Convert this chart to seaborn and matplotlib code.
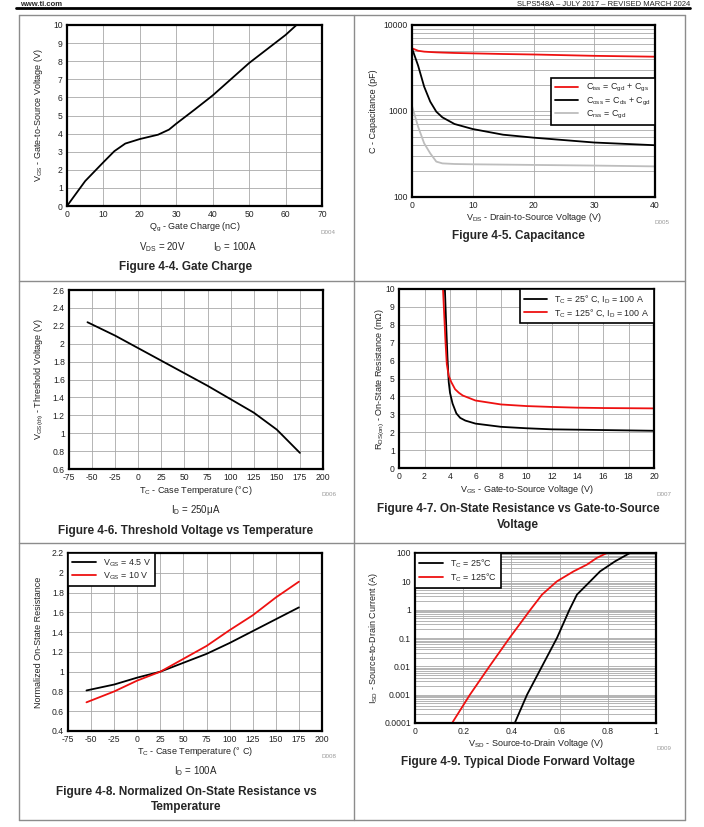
import numpy as np
import pandas as pd
import matplotlib
matplotlib.use("Agg")
import matplotlib.pyplot as plt
from matplotlib.lines import Line2D
from matplotlib.ticker import LogLocator, NullFormatter
import seaborn as sns

# ---------------- data ----------------
# Figure 4-4 gate charge
qg_nc = [0, 5, 10, 13, 16, 20, 25, 28, 30, 35, 40, 50, 60, 63]
vgs_gate = [0, 1.38, 2.42, 3.03, 3.45, 3.7, 3.94, 4.22, 4.55, 5.32, 6.11, 7.9, 9.45, 10]

# Figure 4-5 capacitance (pF)
vds_cap = [0, 1, 2, 3, 4, 5, 7, 10, 15, 20, 30, 40]
c_iss = [5360, 5020, 4900, 4850, 4810, 4780, 4730, 4680, 4600, 4540, 4380, 4280]
c_oss = [5360, 3380, 1920, 1285, 982, 844, 706, 617, 530, 490, 430, 400]
c_rss = [1142, 658, 421, 322, 258, 246, 242, 240, 238, 236, 232, 227]

# Figure 4-6 threshold voltage
tc_vth = [-55, -25, 0, 25, 50, 75, 100, 125, 150, 175]
vth = [2.24, 2.09, 1.95, 1.81, 1.67, 1.53, 1.38, 1.23, 1.04, 0.78]

# Figure 4-7 on-state resistance vs VGS (mOhm)
vgs_25c = [3.6, 3.7, 3.8, 3.9, 4.0, 4.2, 4.5, 4.8, 5.2, 6, 8, 10, 12, 16, 20]
rds_25c = [10, 8, 6.2, 4.8, 4.2, 3.6, 3.05, 2.8, 2.65, 2.48, 2.3, 2.22, 2.16, 2.12, 2.08]
vgs_125c = [3.45, 3.55, 3.65, 3.75, 3.9, 4.1, 4.4, 4.7, 5, 6, 8, 10, 12, 14, 16, 20]
rds_125c = [10, 8.5, 7, 5.8, 5.15, 4.8, 4.4, 4.2, 4.05, 3.77, 3.55, 3.46, 3.41, 3.37, 3.35, 3.33]

# Figure 4-8 normalized on-state resistance
tc_rn = [-55, -25, 0, 25, 50, 75, 100, 125, 150, 175]
rn_4v5 = [0.81, 0.87, 0.94, 1.0, 1.09, 1.18, 1.29, 1.41, 1.53, 1.65]
rn_10v = [0.69, 0.80, 0.91, 1.0, 1.13, 1.26, 1.42, 1.57, 1.75, 1.91]

# Figure 4-9 diode forward voltage
vsd_25c = [0.414, 0.465, 0.527, 0.589, 0.641, 0.672, 0.727, 0.768, 0.799, 0.83, 0.892]
isd_25c = [1e-4, 1e-3, 1e-2, 0.1, 1, 3.4, 10, 22.5, 33.8, 50.8, 100]
vsd_125c = [0.154, 0.228, 0.309, 0.392, 0.479, 0.527, 0.589, 0.658, 0.713, 0.754, 0.796]
isd_125c = [1e-4, 1e-3, 1e-2, 0.1, 1, 3.4, 10, 22.5, 38.7, 66.7, 100]

# ---------------- style ----------------
sns.set_theme(style="white")
plt.rcParams["font.family"] = ["Liberation Sans", "DejaVu Sans"]
plt.rcParams["mathtext.fontset"] = "custom"
plt.rcParams["mathtext.rm"] = "Liberation Sans"
plt.rcParams["mathtext.default"] = "regular"
plt.rcParams["axes.unicode_minus"] = False

W, H = 704, 827
fig = plt.figure(figsize=(W / 100, H / 100), dpi=100)
fig.patch.set_facecolor("white")

GRID = "#a8a8a8"
BORDER = "#8c8c8c"


def add_ax(x0, y0, x1, y1):
    return fig.add_axes([x0 / W, 1 - y1 / H, (x1 - x0) / W, (y1 - y0) / H])


def ftext(x, y, s, **kw):
    fig.text(x / W, 1 - y / H, s, **kw)


def hline(x0, x1, y, **kw):
    fig.add_artist(Line2D([x0 / W, x1 / W], [1 - y / H, 1 - y / H], **kw))


def vline(x, y0, y1, **kw):
    fig.add_artist(Line2D([x / W, x / W], [1 - y0 / H, 1 - y1 / H], **kw))


def style_ax(ax, box, xlabel, ylabel, ylab_x, xlab_y):
    x0, y0, x1, y1 = box
    for sp in ax.spines.values():
        sp.set_visible(True)
        sp.set_color("black")
        sp.set_linewidth(1.6)
    ax.tick_params(which="both", length=0, labelsize=6.2, pad=3, colors="#222222")
    ax.set_xlabel(xlabel, fontsize=6.5, va="center", color="#222222")
    ax.set_ylabel(ylabel, fontsize=6.5, va="center", color="#222222")
    ax.xaxis.set_label_coords(0.5, -(xlab_y - y1) / (y1 - y0))
    ax.yaxis.set_label_coords((ylab_x - x0) / (x1 - x0), 0.5)
    ax.set_axisbelow(True)


def legend(ax, **kw):
    leg = ax.legend(fontsize=6.4, frameon=True, fancybox=False, framealpha=1,
                    borderaxespad=0, handlelength=2.6, labelspacing=0.15,
                    borderpad=0.5, **kw)
    leg.get_frame().set_edgecolor("black")
    leg.get_frame().set_linewidth(1.2)
    return leg


# ---------------- page frame ----------------
ftext(20, 5.5, "www.ti.com", fontsize=5.5, fontweight="bold", va="baseline")
ftext(690, 5.5, "SLPS548A \u2013 JULY 2017 \u2013 REVISED MARCH 2024", fontsize=5.5,
      ha="right", va="baseline")
hline(16, 690, 7.5, color="black", lw=2)
for yy in (15, 281, 543, 820):
    hline(19, 685, yy, color=BORDER, lw=1)
for xx in (19, 354, 685):
    vline(xx, 15, 820, color=BORDER, lw=1)

# ---------------- Figure 4-4 ----------------
box = (67, 25, 322, 206)
ax = add_ax(*box)
sns.lineplot(x=qg_nc, y=vgs_gate, ax=ax, color="black", lw=1.3)
ax.set_xlim(0, 70)
ax.set_ylim(0, 10)
ax.set_xticks(range(0, 71, 10))
ax.set_yticks(range(0, 11))
ax.grid(True, color=GRID, lw=0.6)
style_ax(ax, box, "Q$_g$ - Gate Charge (nC)", "V$_{GS}$ - Gate-to-Source Voltage (V)", 39, 227)
ftext(328, 233, "D004", fontsize=4.5, color="#999999", ha="center", va="center")
ftext(162, 247, "V$_{DS}$ = 20V", fontsize=7, ha="center", va="center")
ftext(235, 247, "I$_D$ = 100A", fontsize=7, ha="center", va="center")
ftext(186, 267, "Figure 4-4. Gate Charge", fontsize=8.5, fontweight="bold",
      ha="center", va="center")

# ---------------- Figure 4-5 ----------------
box = (412, 25, 655, 197)
ax = add_ax(*box)
cap = pd.DataFrame({"vds": vds_cap * 3,
                    "c": c_iss + c_oss + c_rss,
                    "kind": (["C$_{iss}$ = C$_{gd}$ + C$_{gs}$"] * len(vds_cap)
                             + ["C$_{oss}$ = C$_{ds}$ + C$_{gd}$"] * len(vds_cap)
                             + ["C$_{rss}$ = C$_{gd}$"] * len(vds_cap))})
sns.lineplot(data=cap, x="vds", y="c", hue="kind", ax=ax, lw=1.3,
             palette=["#ee1111", "black", "#bdbdbd"])
ax.set_yscale("log")
ax.set_xlim(0, 40)
ax.set_ylim(100, 10000)
ax.set_xticks([0, 10, 20, 30, 40])
ax.set_yticks([100, 1000, 10000], labels=["100", "1000", "10000"])
ax.yaxis.set_minor_locator(LogLocator(base=10, subs=np.arange(2, 10)))
ax.yaxis.set_minor_formatter(NullFormatter())
ax.grid(True, which="major", color=GRID, lw=0.6)
ax.grid(True, which="minor", axis="y", color=GRID, lw=0.6)
style_ax(ax, box, "V$_{DS}$ - Drain-to-Source Voltage (V)", "C - Capacitance (pF)", 373, 217)
legend(ax, loc="center right", bbox_to_anchor=(1.0, 0.555), title=None)
ftext(662, 222, "D005", fontsize=4.5, color="#999999", ha="center", va="center")
ftext(518, 236, "Figure 4-5. Capacitance", fontsize=8.5, fontweight="bold",
      ha="center", va="center")

# ---------------- Figure 4-6 ----------------
box = (69, 290, 323, 469)
ax = add_ax(*box)
sns.lineplot(x=tc_vth, y=vth, ax=ax, color="black", lw=1.3)
ax.set_xlim(-75, 200)
ax.set_ylim(0.6, 2.6)
ax.set_xticks(range(-75, 201, 25))
ax.set_yticks(np.round(np.arange(0.6, 2.61, 0.2), 1),
              labels=["0.6", "0.8", "1", "1.2", "1.4", "1.6", "1.8", "2", "2.2", "2.4", "2.6"])
ax.grid(True, color=GRID, lw=0.6)
style_ax(ax, box, "T$_C$ - Case Temperature (°C)", "V$_{GS(th)}$ - Threshold Voltage (V)", 39, 490)
ftext(329, 495, "D006", fontsize=4.5, color="#999999", ha="center", va="center")
ftext(196, 510, "I$_D$ = 250μA", fontsize=7, ha="center", va="center")
ftext(186, 531, "Figure 4-6. Threshold Voltage vs Temperature", fontsize=8.5,
      fontweight="bold", ha="center", va="center")

# ---------------- Figure 4-7 ----------------
box = (399, 289, 654, 468)
ax = add_ax(*box)
sns.lineplot(x=vgs_25c, y=rds_25c, ax=ax, color="black", lw=1.3,
             label="T$_C$ = 25° C, I$_D$ = 100 A")
sns.lineplot(x=vgs_125c, y=rds_125c, ax=ax, color="#ee1111", lw=1.3,
             label="T$_C$ = 125° C, I$_D$ = 100 A")
ax.set_xlim(0, 20)
ax.set_ylim(0, 10)
ax.set_xticks(range(0, 21, 2))
ax.set_yticks(range(0, 11))
ax.grid(True, color=GRID, lw=0.6)
style_ax(ax, box, "V$_{GS}$ - Gate-to-Source Voltage (V)", "R$_{DS(on)}$ - On-State Resistance (mΩ)", 380, 490)
legend(ax, loc="upper right")
ftext(664, 495, "D007", fontsize=4.5, color="#999999", ha="center", va="center")
ftext(518, 509, "Figure 4-7. On-State Resistance vs Gate-to-Source", fontsize=8.5,
      fontweight="bold", ha="center", va="center")
ftext(518, 525, "Voltage", fontsize=8.5, fontweight="bold", ha="center", va="center")

# ---------------- Figure 4-8 ----------------
box = (68, 553, 322, 731)
ax = add_ax(*box)
sns.lineplot(x=tc_rn, y=rn_4v5, ax=ax, color="black", lw=1.3, label="V$_{GS}$ = 4.5 V")
sns.lineplot(x=tc_rn, y=rn_10v, ax=ax, color="#ee1111", lw=1.3, label="V$_{GS}$ = 10 V")
ax.set_xlim(-75, 200)
ax.set_ylim(0.4, 2.2)
ax.set_xticks(range(-75, 201, 25))
ax.set_yticks(np.round(np.arange(0.4, 2.21, 0.2), 1),
              labels=["0.4", "0.6", "0.8", "1", "1.2", "1.4", "1.6", "1.8", "2", "2.2"])
ax.grid(True, color=GRID, lw=0.6)
style_ax(ax, box, "T$_C$ - Case Temperature (° C)", "Normalized On-State Resistance", 39, 752)
legend(ax, loc="upper left")
ftext(329, 757, "D008", fontsize=4.5, color="#999999", ha="center", va="center")
ftext(196, 771, "I$_D$ = 100A", fontsize=7, ha="center", va="center")
ftext(186, 792, "Figure 4-8. Normalized On-State Resistance vs", fontsize=8.5,
      fontweight="bold", ha="center", va="center")
ftext(186, 807, "Temperature", fontsize=8.5, fontweight="bold", ha="center", va="center")

# ---------------- Figure 4-9 ----------------
box = (415, 553, 656, 723)
ax = add_ax(*box)
sns.lineplot(x=vsd_25c, y=isd_25c, ax=ax, color="black", lw=1.3, label="T$_C$ = 25°C")
sns.lineplot(x=vsd_125c, y=isd_125c, ax=ax, color="#ee1111", lw=1.3, label="T$_C$ = 125°C")
ax.set_yscale("log")
ax.set_xlim(0, 1)
ax.set_ylim(1e-4, 100)
ax.set_xticks([0, 0.2, 0.4, 0.6, 0.8, 1], labels=["0", "0.2", "0.4", "0.6", "0.8", "1"])
ax.set_yticks([1e-4, 1e-3, 1e-2, 0.1, 1, 10, 100],
              labels=["0.0001", "0.001", "0.01", "0.1", "1", "10", "100"])
ax.yaxis.set_minor_locator(LogLocator(base=10, subs=np.arange(2, 10)))
ax.yaxis.set_minor_formatter(NullFormatter())
ax.grid(True, which="major", color=GRID, lw=0.6)
ax.grid(True, which="minor", axis="y", color=GRID, lw=0.6)
style_ax(ax, box, "V$_{SD}$ - Source-to-Drain Voltage (V)", "I$_{SD}$ - Source-to-Drain Current (A)", 373, 743)
legend(ax, loc="upper left")
ftext(664, 748, "D009", fontsize=4.5, color="#999999", ha="center", va="center")
ftext(518, 762, "Figure 4-9. Typical Diode Forward Voltage", fontsize=8.5,
      fontweight="bold", ha="center", va="center")

fig.savefig("out.png", dpi=100)
